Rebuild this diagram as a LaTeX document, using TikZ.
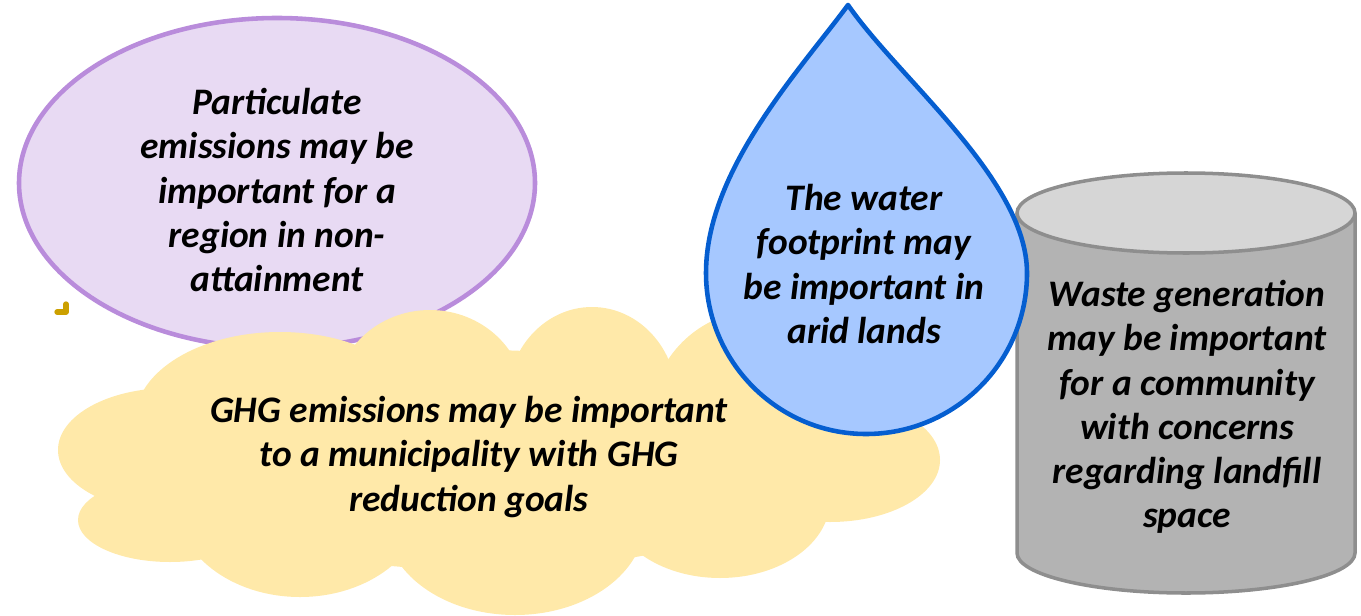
\documentclass[tikz,border=0pt]{standalone}
\usepackage{fontspec}
\setmainfont{Carlito}
\definecolor{partfill}{RGB}{232,218,243}
\definecolor{partline}{RGB}{185,140,219}
\definecolor{cloudfill}{RGB}{255,233,169}
\definecolor{dropfill}{RGB}{166,200,255}
\definecolor{dropline}{RGB}{5,94,208}
\definecolor{cylbody}{RGB}{179,179,179}
\definecolor{cyltop}{RGB}{214,214,214}
\definecolor{cylline}{RGB}{142,142,142}
\definecolor{markgold}{RGB}{204,160,0}
\tikzset{
	blurb/.style={align=center, inner sep=0pt, font=\fontsize{21.3}{25.2}\selectfont\bfseries\itshape},
}
\begin{document}
\begin{tikzpicture}[x=0.02cm, y=-0.02cm]
	\useasboundingbox (0,0) rectangle (1361,615);

	\filldraw[fill=partfill, draw=partline, line width=2.6pt] (277,183) ellipse [x radius=258, y radius=165];
	\draw[markgold, line width=3pt, line cap=round, line join=round] (57,312) -- (66,312) -- (66,304);

	\foreach \cx/\cy/\rx/\ry in {480/460/330/110, 170/450/112/62, 170/520/92/42, 280/420/145/88,
		430/400/95/90, 592/400/85/93, 760/420/110/110, 830/460/110/62, 720/500/110/78,
		515/520/130/95, 300/500/125/97}
		\fill[cloudfill] (\cx,\cy) ellipse [x radius=\rx, y radius=\ry];

	\coordinate (C) at (1186,213);
	\coordinate (D) at (1186,553);
	\fill[cylbody] (1017,213) rectangle (1355,553);
	\draw[cylline, fill=cylbody, line width=2pt] (1017,213) -- (1017,553)
		.. controls (1017,575) and (1093,593) .. (1186,593)
		.. controls (1279,593) and (1355,575) .. (1355,553) -- (1355,213);
	\filldraw[fill=cyltop, draw=cylline, line width=2pt] (C) ellipse [x radius=169, y radius=40];

	\coordinate (T) at (848,5);
	\filldraw[fill=dropfill, draw=dropline, line width=2.6pt, line join=round] (T)
		.. controls (800,70) and (706,170) .. (706,273)
		.. controls (706,362) and (778,434) .. (866,434)
		.. controls (955,434) and (1027,362) .. (1027,273)
		.. controls (1027,180) and (900,80) .. (T) -- cycle;

	\node[blurb] (partic) at (277,190) {Particulate\\emissions may be\\important for a\\region in non-\\attainment};
	\node[blurb] (ghg) at (469,457) {GHG emissions may be important\\to a municipality with GHG\\reduction goals};
	\node[blurb] (water) at (864,264) {The water\\footprint may\\be important in\\arid lands};
	\node[blurb] (waste) at (1187,407) {Waste generation\\may be important\\for a community\\with concerns\\regarding landfill\\space};
\end{tikzpicture}
\end{document}
